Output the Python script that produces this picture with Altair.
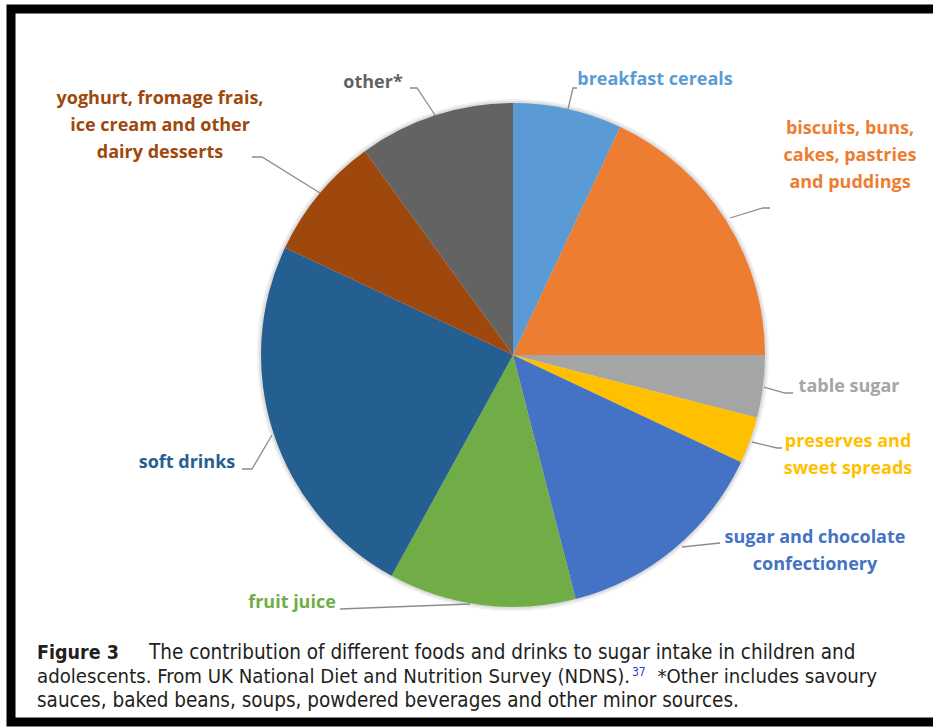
import altair as alt
import pandas as pd

# ---------------- data ----------------
categories = [
    "breakfast cereals",
    "biscuits, buns, cakes, pastries and puddings",
    "table sugar",
    "preserves and sweet spreads",
    "sugar and chocolate confectionery",
    "fruit juice",
    "soft drinks",
    "yoghurt, fromage frais, ice cream and other dairy desserts",
    "other*",
]
shares = [7, 18, 4, 3, 14, 12, 24, 8, 10]
label_texts = [
    "breakfast cereals",
    "biscuits, buns,\ncakes, pastries\nand puddings",
    "table sugar",
    "preserves and\nsweet spreads",
    "sugar and chocolate\nconfectionery",
    "fruit juice",
    "soft drinks",
    "yoghurt, fromage frais,\nice cream and other\ndairy desserts",
    "other*",
]
colors = ["#5B9BD5", "#ED7D31", "#A5A5A5", "#FFC000", "#4472C4",
          "#70AD47", "#255E91", "#9E480E", "#636363"]

caption_line1_bold = "Figure 3"
caption_line1 = "The contribution of different foods and drinks to sugar intake in children and"
caption_line2 = "adolescents. From UK National Diet and Nutrition Survey (NDNS)."
caption_ref = "37"
caption_line2b = "*Other includes savoury"
caption_line3 = "sauces, baked beans, soups, powdered beverages and other minor sources."

# ---------------- layout (annotation placement, pixels) ----------------
CX, CY, R = 513, 355, 252
label_pos = {  # centre x, first-line y of each label block
    "breakfast cereals": (655, 80),
    "biscuits, buns, cakes, pastries and puddings": (850, 129),
    "table sugar": (849, 387),
    "preserves and sweet spreads": (848, 442),
    "sugar and chocolate confectionery": (815, 538),
    "fruit juice": (292, 603),
    "soft drinks": (187, 463),
    "yoghurt, fromage frais, ice cream and other dairy desserts": (160, 99),
    "other*": (373, 83),
}
leaders = {
    "breakfast cereals": [(577, 88), (573, 88), (568, 109)],
    "biscuits, buns, cakes, pastries and puddings": [(730, 218), (763, 208), (770, 208)],
    "table sugar": [(764, 387), (785, 393), (793, 393)],
    "preserves and sweet spreads": [(752, 442), (777, 448), (782, 448)],
    "sugar and chocolate confectionery": [(682, 547), (720, 543)],
    "fruit juice": [(470, 604), (340, 609)],
    "soft drinks": [(272, 435), (252, 469), (242, 469)],
    "yoghurt, fromage frais, ice cream and other dairy desserts": [(320, 193), (262, 157), (252, 157)],
    "other*": [(435, 115), (417, 88), (410, 88)],
}

# ---------------- tables ----------------
pie_df = pd.DataFrame({
    "category": categories,
    "share": shares,
    "idx": list(range(len(categories))),
    "label": label_texts,
})
pie_df["lx"] = [label_pos[c][0] for c in categories]
pie_df["ly"] = [label_pos[c][1] for c in categories]

rows = []
for c in categories:
    for i, (px, py) in enumerate(leaders[c]):
        rows.append({"category": c, "seq": i, "px": px, "py": py})
lead_df = pd.DataFrame(rows)

color_scale = alt.Scale(domain=categories, range=colors)
one = pd.DataFrame({"a": [0]})

frame = alt.Chart(one).mark_rect(
    filled=False, stroke="black", strokeWidth=9
).encode(
    x=alt.value(11), x2=alt.value(950), y=alt.value(9), y2=alt.value(722)
)

# soft shadow around the pie
glow = alt.Chart(pie_df).mark_arc(outerRadius=R + 4, stroke=None, opacity=0.06, color="#000000").encode(
    theta=alt.Theta("share:Q", stack=True),
    order=alt.Order("idx:Q"),
    x=alt.value(CX),
    y=alt.value(CY),
)
glow2 = alt.Chart(pie_df).mark_arc(outerRadius=R + 2, stroke=None, opacity=0.08, color="#000000").encode(
    theta=alt.Theta("share:Q", stack=True),
    order=alt.Order("idx:Q"),
    x=alt.value(CX),
    y=alt.value(CY),
)

pie = alt.Chart(pie_df).mark_arc(outerRadius=R, stroke=None).encode(
    theta=alt.Theta("share:Q", stack=True),
    color=alt.Color("category:N", scale=color_scale, legend=None),
    order=alt.Order("idx:Q"),
    x=alt.value(CX),
    y=alt.value(CY),
)

lines = alt.Chart(lead_df).mark_line(color="#8c8c8c", strokeWidth=1.3).encode(
    x=alt.X("px:Q", scale=None),
    y=alt.Y("py:Q", scale=None),
    detail="category:N",
    order="seq:Q",
)

labels = alt.Chart(pie_df).mark_text(
    font="Open Sans", fontWeight="bold", fontSize=18, lineBreak="\n",
    lineHeight=27, align="center", baseline="middle",
).encode(
    x=alt.X("lx:Q", scale=None),
    y=alt.Y("ly:Q", scale=None),
    text="label:N",
    color=alt.Color("category:N", scale=color_scale, legend=None),
)

CAP_FONT = "DejaVu Sans Condensed, sans-serif"
CAP_COLOR = "#231f20"


def cap(text, x, y, size, bold=False, color=CAP_COLOR, align="left"):
    return alt.Chart(one).mark_text(
        text=text, font=CAP_FONT, fontSize=size,
        fontWeight="bold" if bold else "normal", color=color,
        align=align, baseline="alphabetic",
    ).encode(x=alt.value(x), y=alt.value(y))


caption = [
    cap(caption_line1_bold, 37, 659, 19.5, bold=True),
    cap(caption_line1, 149, 659, 20.5),
    cap(caption_line2, 37, 683, 20.2),
    cap(caption_ref, 632, 676, 12, color="#2b3bd6"),
    cap(caption_line2b, 877, 683, 20.2, align="right"),
    cap(caption_line3, 37, 707, 20.5),
]

chart = alt.layer(frame, glow, glow2, pie, lines, labels, *caption).properties(
    width=933, height=727, padding=0, autosize="none", background="white"
).configure_view(stroke=None)

chart.save("out.html", embed_options={"renderer": "svg", "actions": False})
